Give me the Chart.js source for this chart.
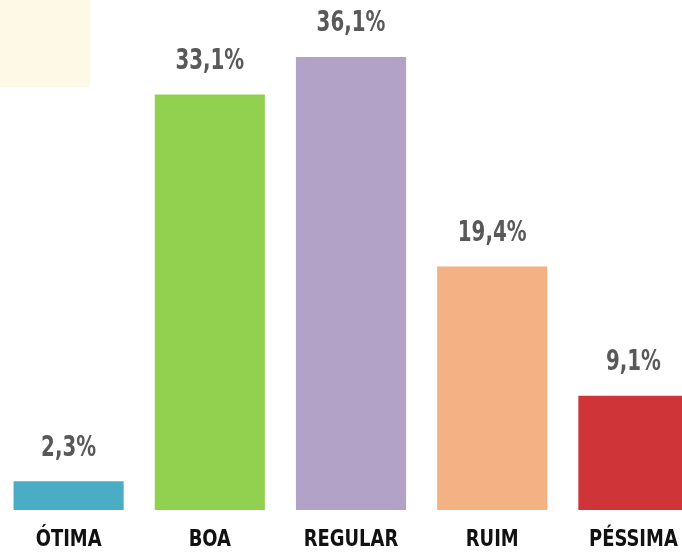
<!DOCTYPE html>
<html>
<head>
<meta charset="utf-8">
<script src="https://cdn.jsdelivr.net/npm/chart.js@4/dist/chart.umd.min.js"></script>
<style>
  html, body { margin: 0; padding: 0; background: #fff; overflow: hidden; }
  #wrap { position: relative; width: 682px; height: 554px; overflow: hidden; }
  #deco { position: absolute; left: 0; top: 0; width: 90px; height: 87px; background: #FEF9E6; }
  #cv { position: absolute; left: -2px; top: 0; }
</style>
</head>
<body>
<div id="wrap">
  <div id="deco"></div>
  <canvas id="cv" width="706" height="554"></canvas>
</div>
<script>
const categories = ["ÓTIMA", "BOA", "REGULAR", "RUIM", "PÉSSIMA"];
const values = [2.3, 33.1, 36.1, 19.4, 9.1];
const valueLabels = ["2,3%", "33,1%", "36,1%", "19,4%", "9,1%"];
const barColors = ["#4BACC6", "#92D050", "#B3A2C7", "#F4B183", "#CF3538"];

const FONT = '"DejaVu Sans Condensed", "DejaVu Sans", sans-serif';

const labelPlugin = {
  id: 'labels',
  afterDatasetsDraw(chart) {
    const ctx = chart.ctx;
    const meta = chart.getDatasetMeta(0);
    const xScale = chart.scales.x;
    const area = chart.chartArea;
    ctx.save();
    ctx.textAlign = 'center';
    ctx.textBaseline = 'middle';
    ctx.font = 'bold 29px ' + FONT;
    ctx.fillStyle = '#595959';
    meta.data.forEach((bar, i) => {
      ctx.save();
      ctx.translate(bar.x, bar.y - 33);
      ctx.scale(0.76, 1);
      ctx.fillText(valueLabels[i], 0, 0);
      ctx.restore();
    });
    ctx.font = 'bold 21px ' + FONT;
    ctx.fillStyle = '#111111';
    categories.forEach((c, i) => {
      ctx.save();
      ctx.translate(xScale.getPixelForValue(i), area.bottom + 30);
      ctx.scale(0.95, 1.08);
      ctx.fillText(c, 0, 0);
      ctx.restore();
    });
    ctx.restore();
  }
};

new Chart(document.getElementById('cv'), {
  type: 'bar',
  data: {
    labels: categories,
    datasets: [{
      data: values,
      backgroundColor: barColors,
      borderWidth: 0,
      barPercentage: 0.78,
      categoryPercentage: 1.0
    }]
  },
  options: {
    responsive: false,
    animation: false,
    devicePixelRatio: 1,
    layout: { padding: { top: 8, left: 0, right: 0, bottom: 36 } },
    plugins: { legend: { display: false }, tooltip: { enabled: false } },
    scales: {
      x: {
        grid: { display: false },
        border: { display: false },
        ticks: { display: false }
      },
      y: {
        display: false,
        min: 0,
        max: 40
      }
    }
  },
  plugins: [labelPlugin]
});
</script>
</body>
</html>
